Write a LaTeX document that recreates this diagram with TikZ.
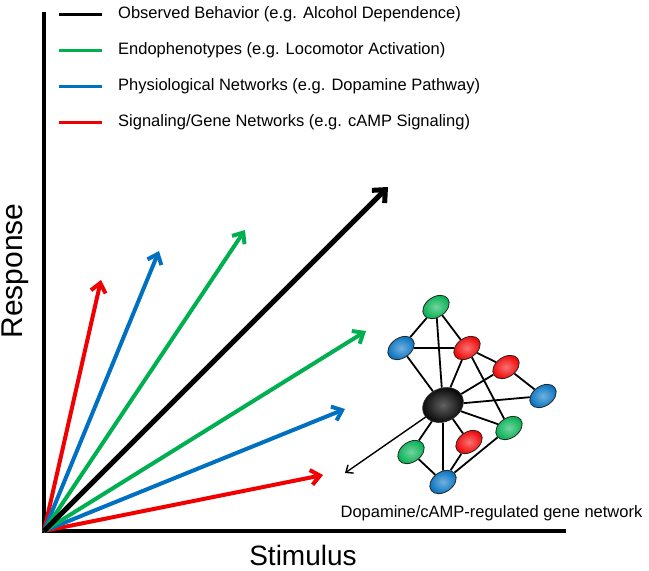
\documentclass[tikz,border=0pt]{standalone}
\usepackage{fontspec}
\setmainfont{Liberation Sans}
\usetikzlibrary{arrows.meta,shapes.geometric,backgrounds}
\definecolor{cgreen}{RGB}{0,176,80}
\definecolor{cblue}{RGB}{0,112,192}
\definecolor{cred}{RGB}{240,0,0}
\begin{document}
\begin{tikzpicture}[x=1pt,y=-1pt,
  axis/.style={line width=4.2pt},
  bigarrow/.style={line width=5pt,-{Straight Barb[length=10pt,width=18pt]}},
  vec/.style={line width=4pt,-{Straight Barb[length=9pt,width=15pt]}},
  legline/.style={line width=3pt},
  legtext/.style={anchor=base west,font=\fontsize{16.5}{18}\selectfont,inner sep=0pt},
  gn/.style={ellipse,draw=black!85,line width=0.8pt,minimum width=29pt,minimum height=20pt,inner sep=0pt,rotate=35,
     shading=radial,inner color=#1!55!white,outer color=#1},
  edge/.style={line width=1.8pt,black},
]
\useasboundingbox (0,0) rectangle (649,571);
% axes
\coordinate (O) at (44,531);
\coordinate (ytop) at (44,12);
\coordinate (xend) at (566,531);
\draw[axis] (ytop) -- (O) -- (xend);
% axis labels
\node[rotate=90,anchor=base,font=\fontsize{30}{32}\selectfont,inner sep=0pt] (resp) at (23,271) {Response};
\node[anchor=base,font=\fontsize{28}{30}\selectfont,inner sep=0pt] (stim) at (303,565) {Stimulus};
% legend
\coordinate (l1a) at (59,14);  \coordinate (l1b) at (102,14);
\coordinate (l2a) at (59,50);  \coordinate (l2b) at (102,50);
\coordinate (l3a) at (59,86);  \coordinate (l3b) at (102,86);
\coordinate (l4a) at (59,122); \coordinate (l4b) at (102,122);
\draw[legline,black] (l1a) -- (l1b);
\draw[legline,cgreen] (l2a) -- (l2b);
\draw[legline,cblue] (l3a) -- (l3b);
\draw[legline,cred] (l4a) -- (l4b);
\node[legtext] (t1) at (118,18.5) {Observed Behavior (e.g. Alcohol Dependence)};
\node[legtext] (t2) at (118,54) {Endophenotypes (e.g. Locomotor Activation)};
\node[legtext] (t3) at (118,90) {Physiological Networks (e.g. Dopamine Pathway)};
\node[legtext] (t4) at (118,126) {Signaling/Gene Networks (e.g. cAMP Signaling)};
% vectors
\coordinate (aK) at (388,187);
\coordinate (aG1) at (245,230);
\coordinate (aB1) at (159,251);
\coordinate (aR1) at (101,280);
\coordinate (aG2) at (366,331);
\coordinate (aB2) at (345,409);
\coordinate (aR2) at (323,475);
\draw[vec,cred] (O) -- (aR1);
\draw[vec,cblue] (O) -- (aB1);
\draw[vec,cgreen] (O) -- (aG1);
\draw[vec,cred] (O) -- (aR2);
\draw[vec,cblue] (O) -- (aB2);
\draw[vec,cgreen] (O) -- (aG2);
\draw[bigarrow,black] (O) -- (aK);
% network
\node[gn=cgreen] (g1) at (436,307) {};
\node[gn=cblue] (b1) at (401,348) {};
\node[gn=cred] (r1) at (467,348) {};
\node[gn=cred] (r2) at (506,367) {};
\node[gn=cblue] (b2) at (543,396) {};
\node[gn=black,inner color=black!62,minimum width=42pt,minimum height=33pt,rotate=-10] (k) at (443,405) {};
\node[gn=cgreen] (g2) at (509,428) {};
\node[gn=cred] (r3) at (469,442) {};
\node[gn=cgreen] (g3) at (411,452) {};
\node[gn=cblue] (b3) at (443,482) {};
\begin{scope}[on background layer]
\draw[edge] (g1)--(b1) (g1)--(r1) (g1)--(k) (b1)--(r1) (b1)--(k) (r1)--(k)
  (r1)--(r2) (r1)--(g2) (r2)--(k) (r2)--(b2) (b2)--(k) (k)--(g2) (k)--(r3)
  (k)--(g3) (k)--(b3) (g3)--(b3) (r3)--(b3) (g2)--(b3);
\end{scope}
\coordinate (ntip) at (345,473);
\draw[line width=1.4pt,-{Straight Barb[length=6pt,width=10pt]}] (k) -- (ntip);
\node[anchor=base,font=\fontsize{16.5}{18}\selectfont,inner sep=0pt] (netlabel) at (491.5,517) {Dopamine/cAMP-regulated gene network};
\end{tikzpicture}
\end{document}
